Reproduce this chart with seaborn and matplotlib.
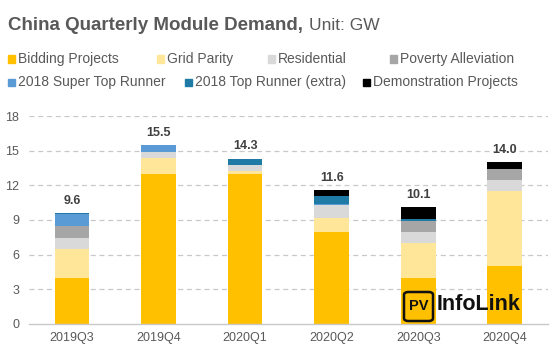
import matplotlib
matplotlib.use("Agg")
import matplotlib.pyplot as plt
from matplotlib.patches import Rectangle, FancyBboxPatch
import seaborn as sns
import numpy as np

quarters = ["2019Q3", "2019Q4", "2020Q1", "2020Q2", "2020Q3", "2020Q4"]
bidding = [4.0, 13.0, 13.0, 8.0, 4.0, 5.0]
grid_parity = [2.5, 1.4, 0.2, 1.2, 3.0, 6.5]
residential = [0.9, 0.5, 0.6, 1.1, 1.0, 1.0]
poverty = [1.1, 0.0, 0.0, 0.0, 0.9, 0.9]
super_top = [1.0, 0.6, 0.0, 0.1, 0.0, 0.0]
top_extra = [0.1, 0.0, 0.5, 0.7, 0.2, 0.0]
demo = [0.0, 0.0, 0.0, 0.5, 1.0, 0.6]
totals = [9.6, 15.5, 14.3, 11.6, 10.1, 14.0]
series_names = ["Bidding Projects", "Grid Parity", "Residential", "Poverty Alleviation",
                "2018 Super Top Runner", "2018 Top Runner (extra)", "Demonstration Projects"]
yticks = [0, 3, 6, 9, 12, 15, 18]

series = [bidding, grid_parity, residential, poverty, super_top, top_extra, demo]
colors = ["#FFC000", "#FFE699", "#D9D9D9", "#A6A6A6", "#5B9BD5", "#1F7BA6", "#000000"]

sns.set_theme(style="white")
plt.rcParams["font.family"] = ["Liberation Sans", "DejaVu Sans"]

fig = plt.figure(figsize=(5.53, 3.47), dpi=100)
ax = fig.add_axes([0.052, 0.0663, 0.939, 0.5994])

bottom = np.zeros(len(quarters))
for vals, col in zip(series, colors):
    sns.barplot(x=quarters, y=vals, bottom=bottom, color=col, width=0.4,
                ax=ax, saturation=1, linewidth=0)
    bottom = bottom + np.array(vals)

ax.set_ylim(0, 18)
ax.set_yticks(yticks)
ax.set_yticklabels([str(t) for t in yticks])
ax.set_xlim(-0.5, 5.5)
for t in yticks[1:]:
    ax.axhline(t, color="#C8C8C8", lw=0.9, ls=(0, (4, 3)), zorder=0)
for s in ["top", "right", "left"]:
    ax.spines[s].set_visible(False)
ax.spines["bottom"].set_color("#C8C8C8")
ax.spines["bottom"].set_linewidth(1.0)
ax.tick_params(axis="both", length=0, labelsize=9, colors="#595959", pad=6)
ax.tick_params(axis="y", pad=7)
ax.grid(False)
ax.set_xlabel("")
ax.set_ylabel("")

for i, tot in enumerate(totals):
    ax.text(i, tot + 0.55, f"{tot:.1f}", ha="center", va="bottom",
            fontsize=9, fontweight="bold", color="#404040")

W, H = 553, 347
t1 = fig.text(8 / W, 1 - 25 / H, "China Quarterly Module Demand,", fontsize=13.5,
              fontweight="bold", color="#595959", va="center", ha="left")
fig.canvas.draw()
bb = t1.get_window_extent(renderer=fig.canvas.get_renderer())
fig.text(bb.x1 / W + 6 / W, 1 - 25 / H, "Unit: GW", fontsize=12.5, color="#595959",
         va="center", ha="left")

leg_pos = [(8, 59), (157, 59), (268, 59), (390, 59), (8, 82), (185, 82), (363, 82)]
for (x, y), name, col in zip(leg_pos, series_names, colors):
    fig.patches.append(Rectangle(((x) / W, 1 - (y + 3.5) / H), 7 / W, 7 / H,
                                 transform=fig.transFigure, color=col, figure=fig))
    fig.text((x + 10) / W, 1 - y / H, name, fontsize=10, color="#595959",
             va="center", ha="left")

# watermark logo
fig.patches.append(FancyBboxPatch((404 / W, 1 - 321 / H), 29 / W, 29 / H,
                                  boxstyle="round,pad=0,rounding_size=0.008",
                                  transform=fig.transFigure, fill=False,
                                  edgecolor="#111111", linewidth=1.8, figure=fig))
fig.text(418.5 / W, 1 - 306 / H, "PV", fontsize=10.5, fontweight="bold",
         color="#111111", ha="center", va="center")
fig.text(437 / W, 1 - 305 / H, "InfoLink", fontsize=15.5, fontweight="bold",
         color="#111111", ha="left", va="center")

fig.savefig("out.png", dpi=100)
